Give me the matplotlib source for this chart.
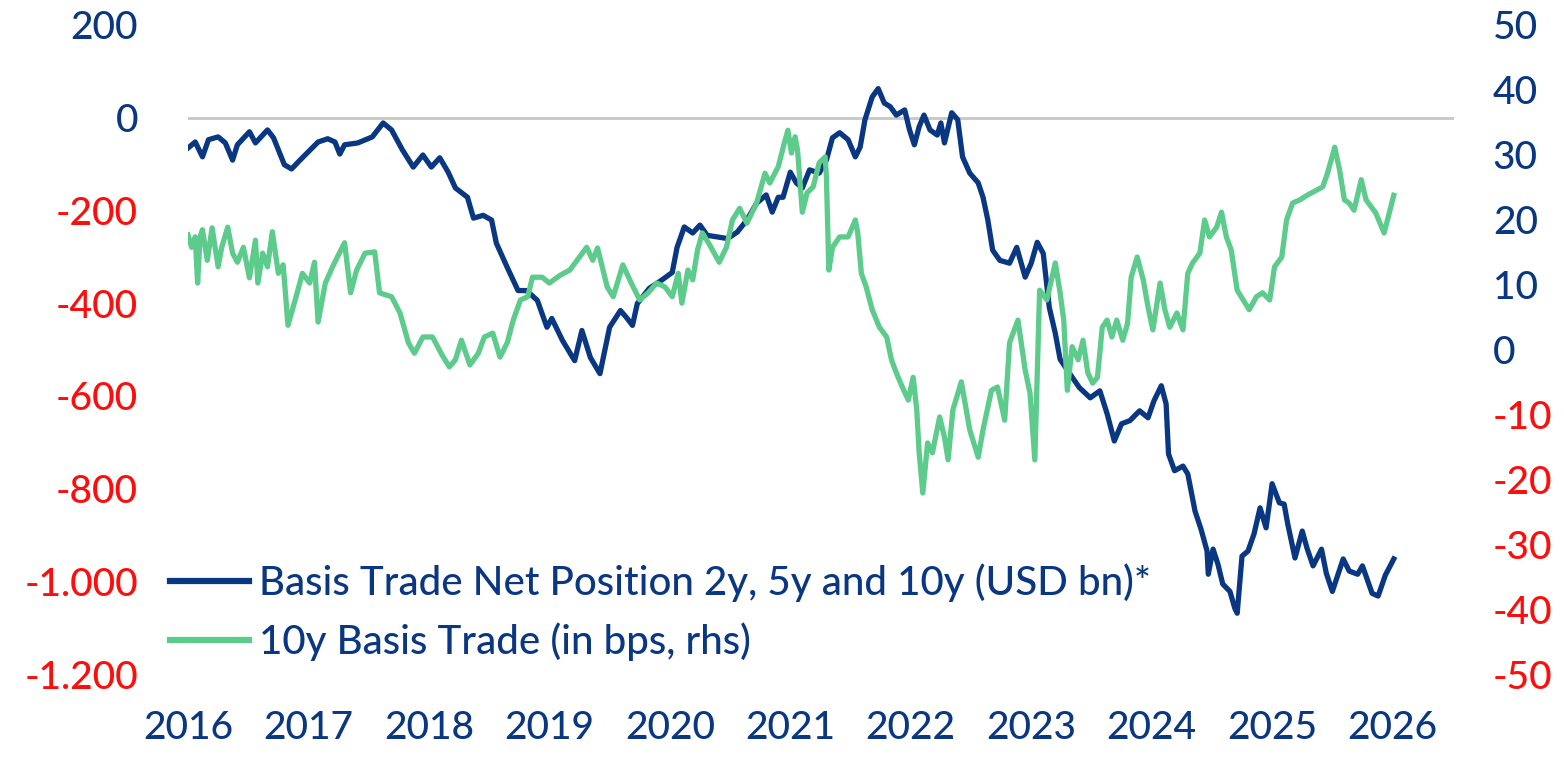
import matplotlib
matplotlib.use("Agg")
import matplotlib.pyplot as plt
from matplotlib.lines import Line2D

plt.rcParams['font.family'] = ['Lato', 'DejaVu Sans']
plt.rcParams['font.weight'] = 'medium'

# ---------------- data ----------------
net_years = [2016.00, 2016.06, 2016.12, 2016.17, 2016.25, 2016.31, 2016.37, 2016.41, 2016.51, 2016.56,
             2016.66, 2016.71, 2016.80, 2016.86, 2016.93, 2017.03, 2017.08, 2017.16, 2017.22, 2017.26,
             2017.30, 2017.41, 2017.53, 2017.62, 2017.69, 2017.78, 2017.87, 2017.95, 2018.02, 2018.09,
             2018.16, 2018.22, 2018.32, 2018.37, 2018.45, 2018.52, 2018.56, 2018.65, 2018.74, 2018.81,
             2018.90, 2018.98, 2019.02, 2019.11, 2019.21, 2019.27, 2019.34, 2019.42, 2019.50, 2019.59,
             2019.64, 2019.69, 2019.73, 2019.83, 2019.93, 2020.02, 2020.06, 2020.12, 2020.19, 2020.25,
             2020.31, 2020.41, 2020.48, 2020.56, 2020.64, 2020.72, 2020.80, 2020.85, 2020.90, 2020.94,
             2021.00, 2021.05, 2021.10, 2021.16, 2021.24, 2021.30, 2021.35, 2021.41, 2021.48, 2021.54,
             2021.58, 2021.62, 2021.68, 2021.73, 2021.78, 2021.83, 2021.88, 2021.95, 2021.99, 2022.03,
             2022.07, 2022.11, 2022.16, 2022.22, 2022.25, 2022.28, 2022.34, 2022.39, 2022.43, 2022.49,
             2022.56, 2022.60, 2022.64, 2022.68, 2022.74, 2022.82, 2022.88, 2022.95, 2023.00, 2023.05,
             2023.10, 2023.15, 2023.20, 2023.24, 2023.32, 2023.40, 2023.49, 2023.57, 2023.63, 2023.69,
             2023.75, 2023.82, 2023.90, 2023.97, 2024.02, 2024.08, 2024.12, 2024.14, 2024.19, 2024.26,
             2024.30, 2024.36, 2024.41, 2024.46, 2024.47, 2024.51, 2024.55, 2024.59, 2024.65, 2024.69,
             2024.71, 2024.75, 2024.80, 2024.85, 2024.90, 2024.95, 2025.00, 2025.06, 2025.10, 2025.13,
             2025.19, 2025.25, 2025.29, 2025.34, 2025.41, 2025.45, 2025.50, 2025.59, 2025.64, 2025.71,
             2025.75, 2025.83, 2025.88, 2025.94, 2026.01]
net_position = [-65, -52, -84, -47, -41, -54, -91, -58, -30, -54,
                -26, -43, -101, -110, -91, -65, -52, -45, -52, -78,
                -58, -54, -41, -11, -26, -69, -106, -80, -106, -86,
                -117, -151, -171, -216, -210, -220, -270, -322, -372, -372,
                -393, -451, -432, -480, -523, -458, -516, -551, -451, -415,
                -430, -447, -400, -367, -350, -333, -279, -235, -248, -231,
                -253, -257, -260, -246, -220, -184, -166, -203, -171, -171,
                -117, -140, -151, -112, -119, -91, -43, -32, -47, -84,
                -63, -4, 45, 63, 32, 24, 6, 17, -26, -58,
                -19, 6, -26, -37, -11, -54, 11, -4, -84, -119,
                -140, -171, -220, -285, -307, -313, -279, -343, -313, -268,
                -292, -408, -464, -520, -551, -581, -603, -588, -637, -696,
                -659, -652, -631, -646, -609, -577, -616, -724, -760, -750,
                -767, -847, -886, -933, -983, -929, -961, -1004, -1020, -1056,
                -1067, -944, -933, -896, -840, -883, -788, -829, -832, -875,
                -948, -890, -927, -965, -929, -981, -1020, -950, -976, -983,
                -965, -1024, -1030, -985, -950]

basis_years = [2016.00, 2016.03, 2016.06, 2016.08, 2016.10, 2016.12, 2016.16, 2016.20, 2016.25, 2016.28,
               2016.33, 2016.37, 2016.41, 2016.46, 2016.51, 2016.56, 2016.58, 2016.62, 2016.66, 2016.70,
               2016.75, 2016.79, 2016.83, 2016.89, 2016.95, 2017.01, 2017.05, 2017.08, 2017.14, 2017.20,
               2017.24, 2017.30, 2017.35, 2017.40, 2017.47, 2017.55, 2017.59, 2017.69, 2017.76, 2017.83,
               2017.88, 2017.95, 2018.03, 2018.11, 2018.17, 2018.22, 2018.27, 2018.34, 2018.41, 2018.46,
               2018.53, 2018.59, 2018.65, 2018.70, 2018.76, 2018.82, 2018.86, 2018.94, 2019.00, 2019.09,
               2019.17, 2019.25, 2019.31, 2019.36, 2019.40, 2019.48, 2019.53, 2019.61, 2019.68, 2019.75,
               2019.82, 2019.89, 2019.96, 2020.02, 2020.07, 2020.10, 2020.15, 2020.19, 2020.23, 2020.27,
               2020.33, 2020.41, 2020.47, 2020.52, 2020.58, 2020.64, 2020.72, 2020.79, 2020.83, 2020.90,
               2020.95, 2020.98, 2021.01, 2021.04, 2021.06, 2021.10, 2021.14, 2021.19, 2021.24, 2021.29,
               2021.30, 2021.32, 2021.35, 2021.41, 2021.48, 2021.54, 2021.56, 2021.59, 2021.63, 2021.68,
               2021.74, 2021.80, 2021.84, 2021.88, 2021.93, 2021.98, 2022.02, 2022.05, 2022.07, 2022.10,
               2022.14, 2022.18, 2022.24, 2022.28, 2022.31, 2022.35, 2022.42, 2022.49, 2022.56, 2022.60,
               2022.67, 2022.72, 2022.78, 2022.82, 2022.89, 2022.95, 2022.99, 2023.03, 2023.07, 2023.13,
               2023.20, 2023.24, 2023.27, 2023.30, 2023.34, 2023.39, 2023.43, 2023.47, 2023.51, 2023.55,
               2023.59, 2023.63, 2023.67, 2023.71, 2023.76, 2023.80, 2023.83, 2023.88, 2023.93, 2023.97,
               2024.01, 2024.07, 2024.11, 2024.15, 2024.21, 2024.26, 2024.30, 2024.34, 2024.40, 2024.44,
               2024.48, 2024.54, 2024.58, 2024.62, 2024.66, 2024.71, 2024.76, 2024.81, 2024.87, 2024.92,
               2024.98, 2025.02, 2025.08, 2025.12, 2025.17, 2025.23, 2025.29, 2025.37, 2025.42, 2025.46,
               2025.52, 2025.56, 2025.60, 2025.64, 2025.68, 2025.74, 2025.78, 2025.86, 2025.93, 2026.01]
basis_10y = [17.7, 15.8, 17.4, 10.3, 17.4, 18.5, 13.8, 18.8, 12.8, 15.8,
             18.9, 14.9, 13.5, 15.8, 11.1, 16.9, 10.3, 14.9, 12.8, 18.2,
             11.8, 13.1, 3.8, 7.7, 11.8, 10.3, 13.5, 4.3, 10.3, 12.8,
             14.3, 16.5, 8.8, 12.3, 14.9, 15.1, 8.8, 8.2, 5.7, 1.1,
             -0.5, 2.0, 2.0, -0.8, -2.6, -1.5, 1.5, -2.3, -0.5, 2.0,
             2.6, -1.1, 1.1, 4.6, 7.7, 8.2, 11.2, 11.2, 10.3, 11.5,
             12.3, 14.3, 15.8, 13.8, 15.7, 9.7, 8.2, 13.1, 10.3, 7.7,
             8.8, 10.3, 9.7, 8.2, 11.8, 7.2, 12.3, 10.8, 15.4, 18.0,
             16.2, 13.5, 15.8, 20.0, 21.8, 19.5, 22.6, 27.2, 25.7, 28.2,
             31.8, 33.8, 30.3, 32.8, 30.8, 21.2, 24.2, 25.1, 28.8, 29.7,
             26.6, 12.3, 15.8, 17.4, 17.4, 20.0, 18.0, 11.8, 9.7, 6.2,
             3.5, 2.0, -1.5, -3.5, -5.7, -7.7, -4.2, -9.2, -15.8, -22.0,
             -14.3, -15.8, -10.3, -13.4, -16.9, -9.2, -4.9, -12.3, -16.5, -12.3,
             -6.2, -5.7, -10.8, 1.1, 4.6, -3.1, -6.6, -16.9, 9.2, 7.7,
             13.4, 8.8, 4.6, -6.2, 0.5, -1.5, 1.5, -3.5, -5.1, -4.2,
             3.5, 4.6, 2.0, 4.6, 1.5, 4.1, 11.2, 14.3, 10.8, 6.6,
             3.1, 10.3, 6.2, 3.5, 5.7, 3.1, 11.8, 13.4, 14.9, 20.0,
             17.4, 18.9, 21.2, 17.4, 15.4, 9.2, 7.7, 6.2, 8.2, 8.8,
             7.7, 12.8, 14.3, 20.0, 22.6, 23.1, 23.8, 24.6, 25.1, 27.2,
             31.2, 27.7, 23.1, 22.6, 21.5, 26.2, 23.1, 21.1, 18.0, 23.8]

year_ticks = [2016, 2017, 2018, 2019, 2020, 2021, 2022, 2023, 2024, 2025, 2026]
left_ticks = [200, 0, -200, -400, -600, -800, -1000, -1200]
left_labels = ['200', '0', '-200', '-400', '-600', '-800', '-1.000', '-1.200']
right_ticks = [50, 40, 30, 20, 10, 0, -10, -20, -30, -40, -50]
right_labels = ['50', '40', '30', '20', '10', '0', '-10', '-20', '-30', '-40', '-50']

label_net = 'Basis Trade Net Position 2y, 5y and 10y (USD bn)*'
label_basis = '10y Basis Trade (in bps, rhs)'

# ---------------- style ----------------
NAVY = '#0a3782'
GREEN = '#5ccb8b'
RED = '#ff0d0d'
FS = 28
FS_LEG = 29

fig = plt.figure(figsize=(15.64, 7.62), dpi=100)
ax = fig.add_axes([188 / 1564, 1 - 675 / 762, (1454 - 188) / 1564, 650 / 762])
ax2 = ax.twinx()

ax.axhline(0, color='#c6c6c6', lw=2.0, zorder=1)
ax.plot(net_years, net_position, color=NAVY, lw=3.8, solid_joinstyle='round', zorder=3)
ax2.plot(basis_years, basis_10y, color=GREEN, lw=3.8, solid_joinstyle='round', zorder=3)

ax.set_xlim(2016, 2026.51)
ax.set_ylim(-1200, 200)
ax2.set_ylim(-50, 50)

for a in (ax, ax2):
    for s in a.spines.values():
        s.set_visible(False)
    a.tick_params(length=0)
ax.patch.set_visible(False)

ax.set_xticks(year_ticks)
ax.set_xticklabels([str(y) for y in year_ticks], fontsize=FS, color=NAVY)
ax.tick_params(axis='x', pad=26)

ax.set_yticks(left_ticks)
ax.set_yticklabels(left_labels, fontsize=FS)
ax.tick_params(axis='y', pad=36)
for t, v in zip(ax.get_yticklabels(), left_ticks):
    t.set_color(NAVY if v >= 0 else RED)

ax2.set_yticks(right_ticks)
ax2.set_yticklabels(right_labels, fontsize=FS)
ax2.tick_params(axis='y', pad=28)
for t, v in zip(ax2.get_yticklabels(), right_ticks):
    t.set_color(NAVY if v >= 0 else RED)

handles = [Line2D([], [], color=NAVY, lw=4.5), Line2D([], [], color=GREEN, lw=4.5)]
leg = fig.legend(handles, [label_net, label_basis], loc='center left',
                 bbox_to_anchor=(170 / 1564, 1 - 612.5 / 762), frameon=False,
                 fontsize=FS_LEG, handlelength=1.95, handletextpad=0.25,
                 labelspacing=0.5, borderpad=0, borderaxespad=0)
for t in leg.get_texts():
    t.set_color(NAVY)

fig.savefig('out.png', dpi=100, facecolor='white')
